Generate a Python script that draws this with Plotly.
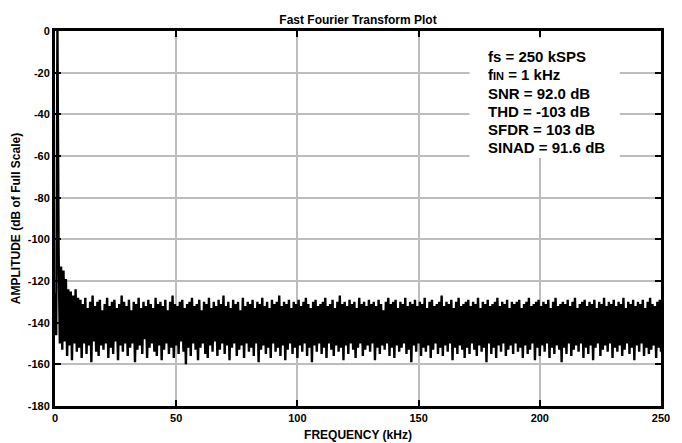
import numpy as np
import plotly.graph_objects as go

# FFT bin spacing (kHz) and amplitude of each bin (dB of full scale)
bin_khz = 0.5
amp_db = [
    -126, -146, 0, -107, -150, -113, -153, -115, -149, -119, -156, -124, -151, -125, -158, -127, -150, -124, -154, -128,
    -152, -129, -157, -131, -150, -128, -155, -133, -151, -130, -159, -127, -149, -132, -154, -130, -156, -129, -151, -134,
    -153, -131, -150, -128, -157, -132, -152, -130, -155, -129, -149, -133, -158, -131, -151, -127, -154, -130, -150, -132,
    -156, -129, -152, -134, -150, -130, -159, -131, -153, -128, -151, -133, -155, -130, -148, -132, -157, -129, -152, -131,
    -150, -133, -154, -128, -156, -131, -151, -130, -158, -132, -153, -129, -150, -134, -155, -130, -152, -127, -157, -131,
    -151, -132, -155, -130, -149, -129, -154, -133, -160, -131, -152, -130, -156, -128, -150, -132, -153, -131, -158, -129,
    -152, -134, -150, -130, -155, -131, -157, -128, -151, -133, -154, -130, -149, -132, -156, -129, -153, -131, -150, -127,
    -155, -132, -151, -130, -158, -133, -152, -129, -150, -131, -156, -130, -153, -134, -151, -128, -157, -132, -150, -130,
    -154, -131, -152, -129, -156, -133, -150, -130, -159, -131, -153, -128, -151, -132, -155, -130, -152, -133, -157, -129,
    -150, -131, -154, -130, -152, -127, -156, -132, -151, -130, -158, -131, -153, -129, -150, -133, -155, -130, -152, -131,
    -157, -129, -151, -132, -154, -130, -150, -128, -156, -131, -152, -133, -159, -130, -151, -129, -154, -132, -150, -131,
    -155, -130, -152, -128, -157, -132, -150, -131, -153, -129, -156, -133, -151, -130, -154, -127, -152, -131, -158, -130,
    -151, -132, -155, -129, -150, -131, -153, -130, -157, -133, -152, -128, -150, -131, -156, -130, -153, -132, -151, -129,
    -154, -131, -150, -130, -158, -132, -152, -129, -155, -131, -151, -134, -153, -130, -150, -128, -156, -131, -152, -130,
    -157, -129, -151, -133, -154, -130, -152, -131, -150, -128, -155, -132, -153, -130, -159, -131, -151, -129, -154, -132,
    -150, -130, -156, -131, -152, -128, -154, -133, -151, -130, -157, -129, -153, -132, -150, -131, -155, -130, -152, -127,
    -156, -132, -151, -130, -154, -131, -150, -129, -158, -133, -152, -130, -155, -128, -151, -132, -153, -131, -157, -130,
    -152, -129, -155, -132, -150, -130, -153, -131, -156, -128, -151, -133, -154, -130, -152, -131, -159, -129, -150, -132,
    -155, -131, -152, -130, -157, -128, -151, -132, -154, -130, -150, -131, -156, -129, -153, -133, -151, -130, -155, -131,
    -150, -130, -154, -129, -152, -133, -157, -131, -151, -130, -155, -128, -153, -132, -150, -131, -158, -130, -152, -129,
    -156, -132, -151, -130, -154, -131, -150, -129, -157, -133, -152, -130, -155, -128, -151, -132, -153, -131, -159, -130,
    -152, -131, -155, -129, -150, -132, -156, -130, -153, -128, -151, -133, -154, -131, -150, -130, -157, -129, -152, -132,
    -155, -130, -151, -131, -158, -129, -152, -133, -150, -130, -156, -131, -153, -128, -151, -132, -154, -130, -150, -131,
    -157, -129, -152, -132, -154, -130, -151, -131, -156, -128, -153, -133, -150, -130, -155, -131, -152, -129, -158, -132,
    -151, -130, -154, -131, -150, -129, -156, -133, -152, -130, -155, -128, -153, -131, -151, -132, -157, -130, -152, -129,
    -154,
]
freq_khz = np.arange(len(amp_db)) * bin_khz

x_ticks = [0, 50, 100, 150, 200, 250]
y_ticks = [0, -20, -40, -60, -80, -100, -120, -140, -160, -180]
y_tick_labels = ['0', '-20', '-40', '-60', '-80', '-100', '-120', '-140', '-160', '-180']

stats_lines = [
    'fs = 250 kSPS',
    "f<span style='font-size:11px'>IN</span> = 1 kHz",
    'SNR = 92.0 dB',
    'THD = -103 dB',
    'SFDR = 103 dB',
    'SINAD = 91.6 dB',
]

font_fam = 'Liberation Sans, Arial, sans-serif'

# page body adds an 8px margin, so the figure is drawn 8px smaller
W, H = 674, 435

fig = go.Figure(go.Scatter(
    x=freq_khz, y=amp_db,
    mode='lines',
    line=dict(color='black', width=2.4, simplify=False),
    showlegend=False))

axis_style = dict(showline=True, linewidth=3, linecolor='black', mirror='ticks',
                  ticks='inside', ticklen=6, tickwidth=2, tickcolor='black',
                  showgrid=True, gridcolor='#bdbdbd', gridwidth=1.5, zeroline=False,
                  automargin=False,
                  tickfont=dict(family=font_fam, size=11, color='black', weight='bold'))

fig.update_xaxes(range=[0, 250], tickvals=x_ticks,
                 title=dict(text='FREQUENCY (kHz)', standoff=8,
                            font=dict(family=font_fam, size=12, color='black', weight='bold')),
                 **axis_style)
fig.update_yaxes(range=[-180, 0], tickvals=y_ticks, ticktext=y_tick_labels,
                 title=dict(text='AMPLITUDE (dB of Full Scale)', standoff=5,
                            font=dict(family=font_fam, size=12, color='black', weight='bold')),
                 **axis_style)

# white box behind the stats text
fig.add_shape(type='rect', xref='x', yref='y', x0=171, x1=233, y0=-61, y1=-3.5,
              fillcolor='white', line=dict(width=0), layer='above')

for i, line in enumerate(stats_lines):
    fig.add_annotation(x=178, y=-12.3 - 8.75 * i, xref='x', yref='y',
                       text=line, showarrow=False, xanchor='left', yanchor='middle',
                       font=dict(family=font_fam, size=15, color='black', weight='bold'))

fig.update_layout(
    width=W, height=H,
    margin=dict(l=47, r=21, t=23, b=37),
    paper_bgcolor='white', plot_bgcolor='white',
    title=dict(text='Fast Fourier Transform Plot', x=0.5, xref='paper',
               y=1 - 12 / H, yref='container', yanchor='middle',
               font=dict(family=font_fam, size=12, color='black', weight='bold')),
)

fig.write_html('out.html')
